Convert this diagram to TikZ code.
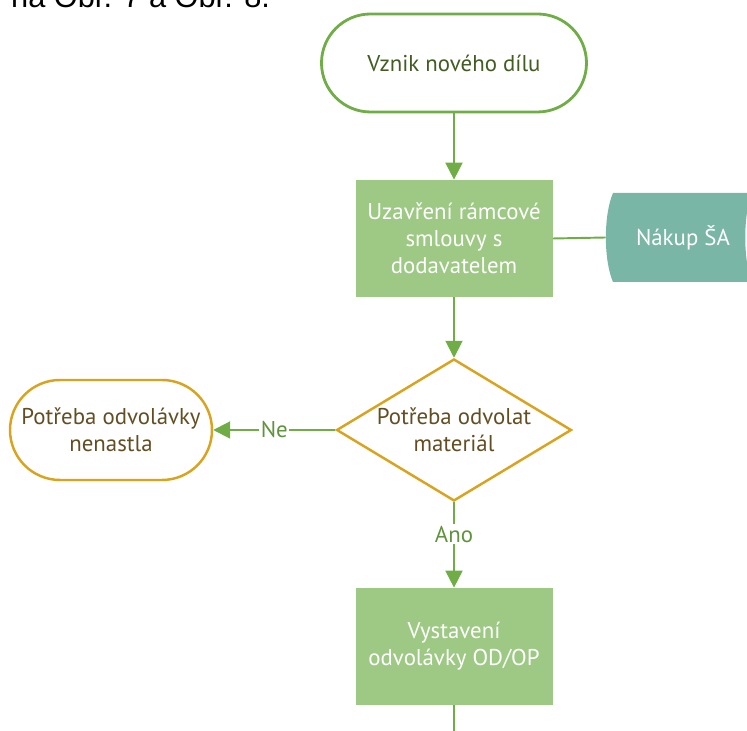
\documentclass[tikz,border=0pt]{standalone}
\usepackage{fontspec}
\setmainfont{PT Sans}
\newfontfamily\capfont{Liberation Sans}
\usetikzlibrary{shapes.geometric,arrows.meta}
\definecolor{linegreen}{RGB}{112,173,71}
\definecolor{boxgreen}{RGB}{157,201,132}
\definecolor{textgreen}{RGB}{66,92,34}
\definecolor{nakupteal}{RGB}{122,182,166}
\definecolor{decgold}{RGB}{218,163,30}
\definecolor{decbrown}{RGB}{98,78,34}
\begin{document}
\begin{tikzpicture}[
  every node/.style={font=\fontsize{13}{15.4}\selectfont, align=center},
  terminal/.style={draw=linegreen, fill=white, line width=1.6pt, rounded corners=0.98cm,
    minimum width=5.3cm, minimum height=1.96cm, text=textgreen},
  stepbox/.style={fill=boxgreen, minimum width=3.94cm, minimum height=2.34cm, text=white},
  decision/.style={diamond, draw=decgold, fill=white, line width=1.4pt, aspect=1.65,
    inner sep=0pt, minimum width=4.7cm, minimum height=2.84cm, text=decbrown},
  endterm/.style={draw=decgold, fill=white, line width=1.4pt, rounded corners=1cm,
    minimum width=4.04cm, minimum height=2cm, text=decbrown},
  flow/.style={draw=linegreen, line width=1.1pt, -{Triangle[width=0.34cm,length=0.34cm]}},
  plain/.style={draw=linegreen, line width=1.1pt},
  lbl/.style={fill=white, text=linegreen!85!black, inner sep=1pt}
]
  \useasboundingbox (0,0) rectangle (14.94,-14.62);
  \node[anchor=base west, font=\capfont\fontsize{17.5}{20}\selectfont] (cap) at (0.1,-0.15) {na Obr. 7 a Obr. 8.};

  \fill[nakupteal] (12.26,-3.86) -- (15.04,-3.86) .. controls (14.86,-4.3) and (14.86,-5.2) .. (15.04,-5.64)
    -- (12.26,-5.64) .. controls (12.07,-5.2) and (12.07,-4.3) .. cycle;

  \node[terminal] (start) at (9.08,-1.26) {Vznik nového dílu};
  \node[stepbox] (frame) at (9.08,-4.77) {Uzavření rámcové\\smlouvy s\\dodavatelem};
  \node[minimum width=3.08cm, text=white] (nakup) at (13.66,-4.75) {Nákup ŠA};
  \node[decision] (need) at (9.08,-8.6) {Potřeba odvolat\\materiál};
  \node[endterm] (none) at (2.22,-8.6) {Potřeba odvolávky\\nenastla};
  \node[stepbox] (order) at (9.08,-12.93) {Vystavení\\odvolávky OD/OP};
  \coordinate (next) at (9.08,-14.8);

  \draw[flow] (start) -- (frame);
  \draw[plain] (frame.east) -- (nakup.west);
  \draw[flow] (frame) -- (need.north);
  \draw[flow] (need.west) -- node[lbl] {Ne} (none.east);
  \draw[flow] (need.south) -- node[lbl, pos=0.375] {Ano} (order);
  \draw[plain] (order) -- (next);
\end{tikzpicture}
\end{document}
